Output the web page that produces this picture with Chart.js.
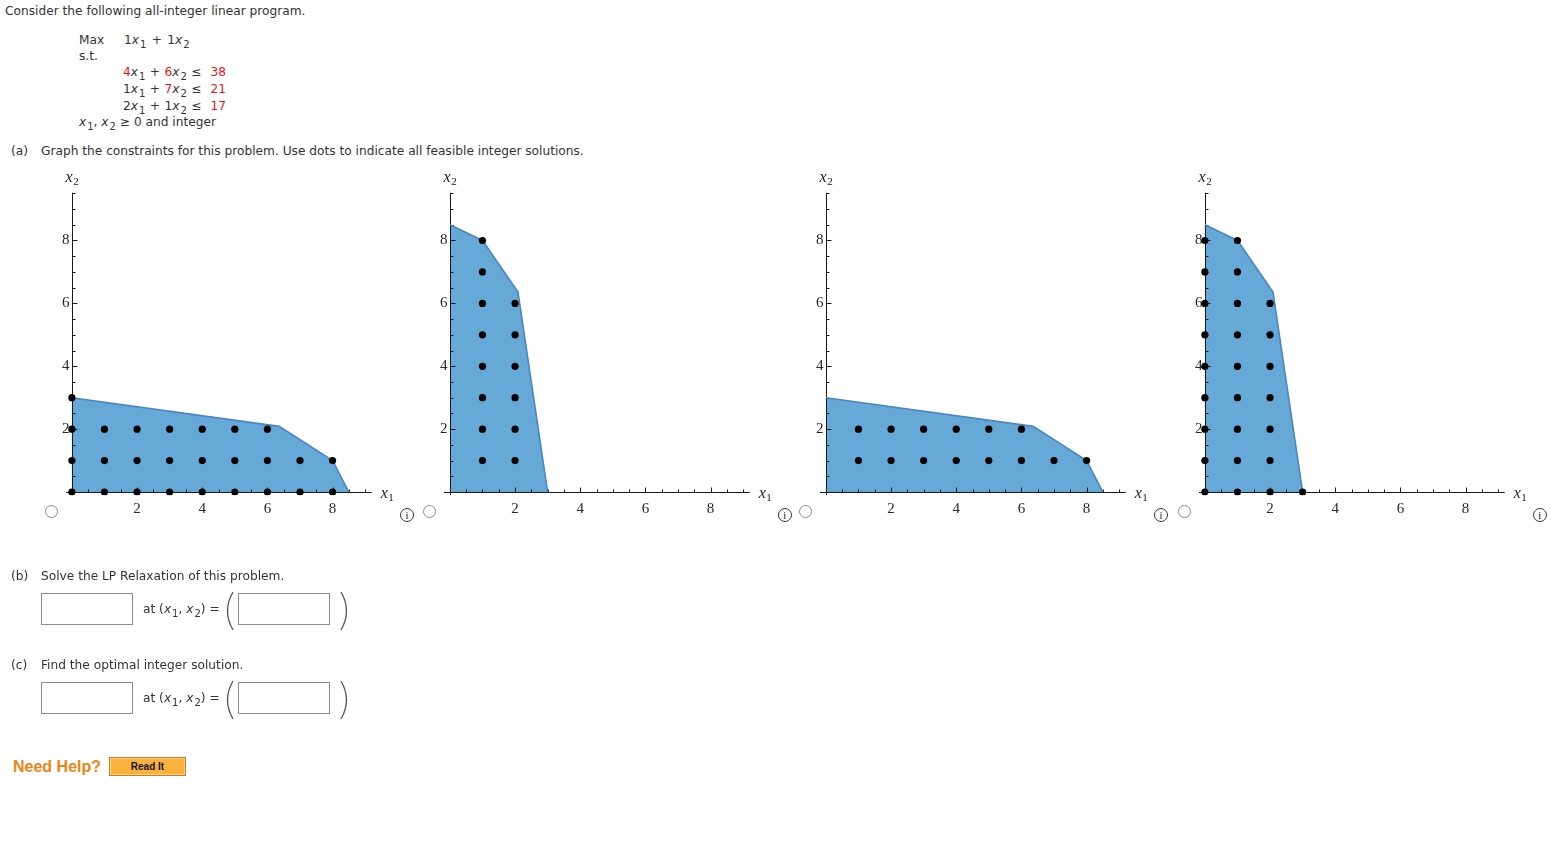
<!DOCTYPE html>
<html>
<head>
<meta charset="utf-8">
<script src="https://cdn.jsdelivr.net/npm/chart.js@4"></script>
<style>
  body { margin: 0; background: #fff; font-family: "DejaVu Sans", Verdana, sans-serif; font-size: 12.2px; color: #333;
         width: 1551px; height: 863px; position: relative; overflow: hidden; }
  .t { position: absolute; white-space: nowrap; line-height: 16px; }
  .t i { font-style: italic; }
  .eq { word-spacing: 1.5px; }
  .eq2 { word-spacing: 0.6px; }
  sub { font-size: 10px; vertical-align: -4px; line-height: 0; margin-left: 1px; }
  .red { color: #e8141c; }
  .plot { position: absolute; top: 165px; }
  .radio { position: absolute; width: 11px; height: 11px; border: 1px solid #8a8a8a; border-radius: 50%; background: #fff; }
  .info { position: absolute; width: 12px; height: 12px; border: 1px solid #333; border-radius: 50%;
          font: 11px/12px "Liberation Serif", serif; text-align: center; color: #222; }
  .box { position: absolute; width: 90px; height: 30px; border: 1px solid #8c8c8c; background: #fff; }
  .paren { position: absolute; }
  .help { position: absolute; left: 13px; top: 758px; font: bold 16px "Liberation Sans", Arial, sans-serif; color: #f08311; }
  .btn { position: absolute; left: 109px; top: 757px; width: 75px; height: 17px; border: 1px solid #d4791a;
         background: #fbb23d; box-shadow: inset 0 0 0 1px #fdd28a; font: bold 10px/17px "Liberation Sans", Arial, sans-serif;
         color: #111; text-align: center; }
</style>
</head>
<body>

<div class="t" style="left:5px;top:3px">Consider the following all-integer linear program.</div>
<div class="t" style="left:79px;top:32px">Max</div>
<div class="t eq" style="left:124px;top:32px">1<i>x</i><sub>1</sub> + 1<i>x</i><sub>2</sub></div>
<div class="t" style="left:79px;top:48px">s.t.</div>
<div class="t eq2" style="left:123px;top:64px"><span class="red">4</span><i>x</i><sub>1</sub> + <span class="red">6</span><i>x</i><sub>2</sub> ≤ &nbsp;<span class="red">38</span></div>
<div class="t eq2" style="left:123px;top:81px">1<i>x</i><sub>1</sub> + <span class="red">7</span><i>x</i><sub>2</sub> ≤ &nbsp;<span class="red">21</span></div>
<div class="t eq2" style="left:123px;top:98px">2<i>x</i><sub>1</sub> + 1<i>x</i><sub>2</sub> ≤ &nbsp;<span class="red">17</span></div>
<div class="t" style="left:79px;top:114px"><i>x</i><sub>1</sub>, <i>x</i><sub>2</sub> ≥ 0 and integer</div>

<div class="t" style="left:11px;top:143px">(a)</div>
<div class="t" style="left:41px;top:143px">Graph the constraints for this problem. Use dots to indicate all feasible integer solutions.</div>

<div id="plots"></div>

<div class="t" style="left:11px;top:568px">(b)</div>
<div class="t" style="left:41px;top:568px">Solve the LP Relaxation of this problem.</div>
<div class="box" style="left:41px;top:593px"></div>
<div class="t" style="left:143px;top:601px">at (<i>x</i><sub>1</sub>, <i>x</i><sub>2</sub>) =</div>
<svg class="paren" style="left:222px;top:591px" width="14" height="40"><path d="M11 1 Q0 20 11 39" fill="none" stroke="#555" stroke-width="1.3"/></svg>
<div class="box" style="left:238px;top:593px"></div>
<svg class="paren" style="left:338px;top:591px" width="14" height="40"><path d="M3 1 Q14 20 3 39" fill="none" stroke="#555" stroke-width="1.3"/></svg>

<div class="t" style="left:11px;top:657px">(c)</div>
<div class="t" style="left:41px;top:657px">Find the optimal integer solution.</div>
<div class="box" style="left:41px;top:682px"></div>
<div class="t" style="left:143px;top:690px">at (<i>x</i><sub>1</sub>, <i>x</i><sub>2</sub>) =</div>
<svg class="paren" style="left:222px;top:680px" width="14" height="40"><path d="M11 1 Q0 20 11 39" fill="none" stroke="#555" stroke-width="1.3"/></svg>
<div class="box" style="left:238px;top:682px"></div>
<svg class="paren" style="left:338px;top:680px" width="14" height="40"><path d="M3 1 Q14 20 3 39" fill="none" stroke="#555" stroke-width="1.3"/></svg>

<div class="help">Need Help?</div>
<div class="btn">Read It</div>

<script>
// Feasible region (vertices in drawing order)
const wideRegionX = [0, 0, 6.36, 8, 8.5];
const wideRegionY = [0, 3, 2.09, 1, 0];
const tallRegionX = [0, 0, 1, 2.09, 3];
const tallRegionY = [0, 8.5, 8, 6.36, 0];

// Dots shown on each of the four answer choices
const dotsAX = [0, 1, 2, 3, 4, 5, 6, 7, 8, 0, 1, 2, 3, 4, 5, 6, 7, 8, 0, 1, 2, 3, 4, 5, 6, 0];
const dotsAY = [0, 0, 0, 0, 0, 0, 0, 0, 0, 1, 1, 1, 1, 1, 1, 1, 1, 1, 2, 2, 2, 2, 2, 2, 2, 3];
const dotsBX = [1, 1, 1, 1, 1, 1, 1, 1, 2, 2, 2, 2, 2, 2];
const dotsBY = [1, 2, 3, 4, 5, 6, 7, 8, 1, 2, 3, 4, 5, 6];
const dotsCX = [1, 2, 3, 4, 5, 6, 7, 8, 1, 2, 3, 4, 5, 6];
const dotsCY = [1, 1, 1, 1, 1, 1, 1, 1, 2, 2, 2, 2, 2, 2];
const dotsDX = [0, 0, 0, 0, 0, 0, 0, 0, 0, 1, 1, 1, 1, 1, 1, 1, 1, 1, 2, 2, 2, 2, 2, 2, 2, 3];
const dotsDY = [0, 1, 2, 3, 4, 5, 6, 7, 8, 0, 1, 2, 3, 4, 5, 6, 7, 8, 0, 1, 2, 3, 4, 5, 6, 0];

// Axis ticks
const tickLabels = [2, 4, 6, 8];
const axisX = { min: -0.18, max: 9.2 };
const axisY = { min: -0.1, max: 9.52 };

const panels = [
  { region: [wideRegionX, wideRegionY], dots: [dotsAX, dotsAY] },
  { region: [tallRegionX, tallRegionY], dots: [dotsBX, dotsBY] },
  { region: [wideRegionX, wideRegionY], dots: [dotsCX, dotsCY] },
  { region: [tallRegionX, tallRegionY], dots: [dotsDX, dotsDY] }
];
const panelOffsets = [0, 377.7, 754, 1132.7];

const toPoints = (xs, ys) => xs.map((x, i) => ({ x, y: ys[i] }));

// Mathematica-like axes: lines through origin, ticks pointing inward
const mathAxes = {
  id: 'mathAxes',
  afterDatasetDraw(chart, args) {
    if (args.index !== 0) return;
    const ctx = chart.ctx;
    const xs = chart.scales.x, ys = chart.scales.y;
    const ay = Math.round(ys.getPixelForValue(0)) + 0.5;
    const ax = Math.round(xs.getPixelForValue(0)) + 0.5;
    ctx.save();
    ctx.strokeStyle = '#1a1a1a';
    ctx.lineWidth = 1;
    ctx.beginPath();
    ctx.moveTo(xs.left, ay); ctx.lineTo(xs.right, ay);
    ctx.moveTo(ax, ys.bottom); ctx.lineTo(ax, ys.top);
    xs.ticks.forEach(t => {
      if (t.value <= 0) return;
      const p = Math.round(xs.getPixelForValue(t.value)) + 0.5;
      ctx.moveTo(p, ay); ctx.lineTo(p, ay - (t.value % 2 === 0 ? 5 : 3));
    });
    ys.ticks.forEach(t => {
      if (t.value <= 0) return;
      const p = Math.round(ys.getPixelForValue(t.value)) + 0.5;
      ctx.moveTo(ax, p); ctx.lineTo(ax + (t.value % 2 === 0 ? 5 : 3), p);
    });
    ctx.stroke();
    ctx.restore();
  },
  afterDraw(chart) {
    const ctx = chart.ctx;
    const xs = chart.scales.x, ys = chart.scales.y;
    const drawVar = (sub, x, y, centered) => {
      ctx.font = 'italic 16px "Liberation Serif", serif';
      const w1 = ctx.measureText('x').width;
      ctx.font = '11px "Liberation Serif", serif';
      const w2 = ctx.measureText(sub).width;
      const left = centered ? x - (w1 + w2) / 2 : x;
      ctx.fillStyle = '#222';
      ctx.textBaseline = 'alphabetic';
      ctx.textAlign = 'left';
      ctx.font = 'italic 16px "Liberation Serif", serif';
      ctx.fillText('x', left, y);
      ctx.font = '11px "Liberation Serif", serif';
      ctx.fillText(sub, left + w1 + 0.5, y + 3);
    };
    ctx.save();
    drawVar('2', xs.getPixelForValue(0), chart.chartArea.top - 11, true);
    drawVar('1', chart.chartArea.right + 9, ys.getPixelForValue(0) + 6, false);
    ctx.restore();
  }
};

const plotsDiv = document.getElementById('plots');
panels.forEach((p, i) => {
  const ox = panelOffsets[i];
  const canvas = document.createElement('canvas');
  canvas.className = 'plot';
  canvas.width = 370;
  canvas.height = 360;
  canvas.style.left = (40 + ox) + 'px';
  plotsDiv.appendChild(canvas);

  const radio = document.createElement('div');
  radio.className = 'radio';
  radio.style.left = (45 + ox) + 'px';
  radio.style.top = '505px';
  plotsDiv.appendChild(radio);

  const info = document.createElement('div');
  info.className = 'info';
  info.textContent = 'i';
  info.style.left = (400 + ox) + 'px';
  info.style.top = '508px';
  plotsDiv.appendChild(info);

  const regionPts = toPoints(p.region[0], p.region[1]);
  new Chart(canvas, {
    type: 'scatter',
    data: {
      datasets: [
        { type: 'line', data: regionPts, fill: 'shape', backgroundColor: '#66a9d6', borderWidth: 0,
          pointRadius: 0, order: 3 },
        { type: 'line', data: regionPts.slice(1), fill: false, borderColor: '#4a85c4', borderWidth: 1.6,
          pointRadius: 0, order: 2 },
        { data: toPoints(p.dots[0], p.dots[1]), backgroundColor: '#000', borderWidth: 0,
          pointRadius: 3.6, order: 1 }
      ]
    },
    options: {
      responsive: false,
      animation: false,
      events: [],
      layout: { padding: { left: 26, top: 27.7, right: 38.3, bottom: 0 } },
      plugins: { legend: { display: false }, tooltip: { enabled: false } },
      scales: {
        x: {
          type: 'linear', min: axisX.min, max: axisX.max,
          grid: { display: false }, border: { display: false },
          afterFit: s => { s.height = 29.8; },
          ticks: {
            stepSize: 0.5, includeBounds: false, autoSkip: false, maxRotation: 0, padding: -3,
            color: '#2a2a2a', font: { family: '"Liberation Serif", serif', size: 15 },
            callback: v => tickLabels.includes(v) ? String(v) : ''
          }
        },
        y: {
          type: 'linear', min: axisY.min, max: axisY.max,
          grid: { display: false }, border: { display: false },
          afterFit: s => { s.width = 0; },
          ticks: {
            stepSize: 0.5, includeBounds: false, autoSkip: false, mirror: true, padding: -4,
            color: '#2a2a2a', font: { family: '"Liberation Serif", serif', size: 15 },
            callback: v => tickLabels.includes(v) ? String(v) : ''
          }
        }
      }
    },
    plugins: [mathAxes]
  });
});
</script>
</body>
</html>
